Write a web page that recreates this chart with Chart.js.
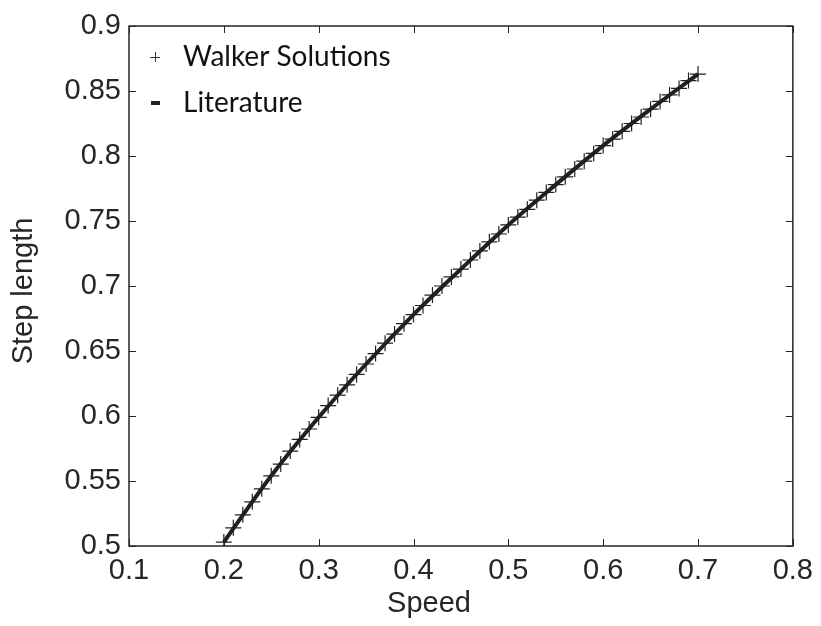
<!DOCTYPE html>
<html>
<head>
<meta charset="utf-8">
<script src="https://cdn.jsdelivr.net/npm/chart.js@4/dist/chart.umd.min.js"></script>
<style>
  html, body { margin: 0; padding: 0; background: #fff; }
  #wrap { width: 821px; height: 626px; }
</style>
</head>
<body>
<div id="wrap"><canvas id="my-chart"></canvas></div>
<script>
// values
const speed = [0.20, 0.21, 0.22, 0.23, 0.24, 0.25, 0.26, 0.27, 0.28, 0.29,
               0.30, 0.31, 0.32, 0.33, 0.34, 0.35, 0.36, 0.37, 0.38, 0.39,
               0.40, 0.41, 0.42, 0.43, 0.44, 0.45, 0.46, 0.47, 0.48, 0.49,
               0.50, 0.51, 0.52, 0.53, 0.54, 0.55, 0.56, 0.57, 0.58, 0.59,
               0.60, 0.61, 0.62, 0.63, 0.64, 0.65, 0.66, 0.67, 0.68, 0.69, 0.70]
const walkerStep = [0.503, 0.514, 0.524, 0.534, 0.544, 0.554, 0.563, 0.573, 0.582, 0.590,
                    0.599, 0.608, 0.616, 0.624, 0.632, 0.640, 0.648, 0.656, 0.663, 0.671,
                    0.678, 0.685, 0.693, 0.700, 0.707, 0.713, 0.720, 0.727, 0.734, 0.740,
                    0.747, 0.753, 0.759, 0.766, 0.772, 0.778, 0.784, 0.790, 0.796, 0.802,
                    0.808, 0.813, 0.819, 0.825, 0.830, 0.836, 0.842, 0.847, 0.852, 0.858, 0.863]
const litSpeed = [0.20, 0.25, 0.30, 0.35, 0.40, 0.45, 0.50, 0.55, 0.60, 0.65, 0.70]
const litStep = [0.503, 0.554, 0.599, 0.640, 0.678, 0.713, 0.747, 0.778, 0.808, 0.836, 0.863]

const xTicks = [0.1, 0.2, 0.3, 0.4, 0.5, 0.6, 0.7, 0.8]
const yTicks = [0.5, 0.55, 0.6, 0.65, 0.7, 0.75, 0.8, 0.85, 0.9]
const xTitle = 'Speed'
const yTitle = 'Step length'

const ink = '#262626'
const tickFont = { family: '"Liberation Sans", Arial, sans-serif', size: 29 }
const legendFont = '28px Lato, "Open Sans", sans-serif'

// box round the plot, inward ticks on four sides, axis titles, legend inside
const framePlugin = {
    id: 'frame',
    afterDraw(chart) {
        const { ctx, chartArea: a, scales } = chart
        ctx.save()
        ctx.strokeStyle = ink
        ctx.lineWidth = 1.5
        ctx.strokeRect(a.left, a.top, a.right - a.left, a.bottom - a.top)
        const len = 7
        ctx.beginPath()
        xTicks.forEach(v => {
            const px = Math.round(scales.x.getPixelForValue(v)) + 0.5
            ctx.moveTo(px, a.bottom); ctx.lineTo(px, a.bottom - len)
            ctx.moveTo(px, a.top); ctx.lineTo(px, a.top + len)
        })
        yTicks.forEach(v => {
            const py = Math.round(scales.y.getPixelForValue(v)) + 0.5
            ctx.moveTo(a.left, py); ctx.lineTo(a.left + len, py)
            ctx.moveTo(a.right, py); ctx.lineTo(a.right - len, py)
        })
        ctx.lineWidth = 1
        ctx.stroke()

        // axis titles (the x one sits left of centre in the original)
        ctx.fillStyle = ink
        ctx.font = tickFont.size + 'px ' + tickFont.family
        ctx.textAlign = 'center'
        ctx.textBaseline = 'middle'
        ctx.fillText(xTitle, 429, 604)
        ctx.save()
        ctx.translate(24, 291)
        ctx.rotate(-Math.PI / 2)
        ctx.fillText(yTitle, 0, 0)
        ctx.restore()

        // legend
        const lx = a.left + 26, ly1 = 57, ly2 = 103
        ctx.strokeStyle = '#333'
        ctx.lineWidth = 1
        ctx.beginPath()
        ctx.moveTo(lx - 5, ly1 + 0.5); ctx.lineTo(lx + 5, ly1 + 0.5)
        ctx.moveTo(lx + 0.5, ly1 - 5); ctx.lineTo(lx + 0.5, ly1 + 5)
        ctx.stroke()
        ctx.strokeStyle = '#231f20'
        ctx.lineWidth = 4
        ctx.beginPath()
        ctx.moveTo(lx - 4, ly2); ctx.lineTo(lx + 5, ly2)
        ctx.stroke()
        ctx.fillStyle = '#111'
        ctx.font = legendFont
        ctx.textAlign = 'left'
        ctx.fillText(chart.data.datasets[0].label, a.left + 54, ly1)
        ctx.fillText(chart.data.datasets[1].label, a.left + 54, ly2)
        ctx.restore()
    }
}

new Chart(document.getElementById('my-chart'), {
    type: 'scatter',
    data: {
        datasets: [{
            label: 'Walker Solutions',
            data: speed.map((s, i) => ({ x: s, y: walkerStep[i] })),
            pointStyle: 'cross',
            pointRadius: 8,
            pointBorderWidth: 1.2,
            borderColor: '#222',
            backgroundColor: '#222',
            showLine: false,
            order: 1
        }, {
            label: 'Literature',
            data: litSpeed.map((s, i) => ({ x: s, y: litStep[i] })),
            showLine: true,
            borderColor: '#231f20',
            borderWidth: 4,
            pointRadius: 0,
            cubicInterpolationMode: 'monotone',
            order: 0
        }]
    },
    options: {
        responsive: true,
        maintainAspectRatio: false,
        animation: false,
        events: [],
        layout: { padding: { top: 26, right: 27, left: 0, bottom: 0 } },
        plugins: {
            legend: { display: false },
            tooltip: { enabled: false }
        },
        scales: {
            x: {
                type: 'linear',
                min: 0.1, max: 0.8,
                afterBuildTicks: s => { s.ticks = xTicks.map(v => ({ value: v })) },
                afterFit: s => { s.height = 80 },
                grid: { display: false, drawTicks: false },
                border: { display: false },
                ticks: {
                    color: ink, font: tickFont, padding: 8, maxRotation: 0,
                    callback: v => String(+v.toFixed(2))
                }
            },
            y: {
                type: 'linear',
                min: 0.5, max: 0.9,
                afterBuildTicks: s => { s.ticks = yTicks.map(v => ({ value: v })) },
                afterFit: s => { s.width = 129 },
                grid: { display: false, drawTicks: false },
                border: { display: false },
                ticks: {
                    color: ink, font: tickFont, padding: 8,
                    callback: v => String(+v.toFixed(2))
                }
            }
        }
    },
    plugins: [framePlugin]
});
</script>
</body>
</html>
